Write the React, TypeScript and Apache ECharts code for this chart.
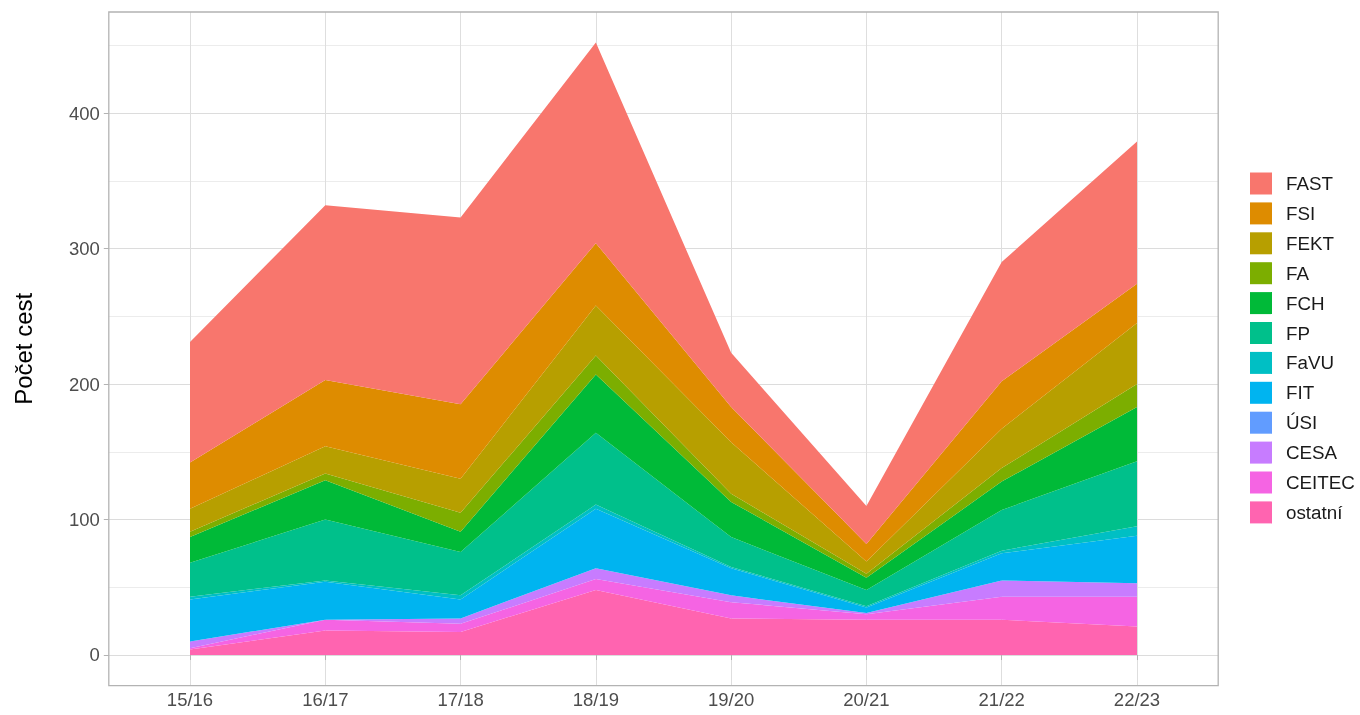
import React, { useEffect, useRef } from 'react';
import * as echarts from 'echarts';

// ---- data ----
const categories = ['15/16', '16/17', '17/18', '18/19', '19/20', '20/21', '21/22', '22/23'];
const FAST = [89, 129, 138, 148, 40, 28, 88, 105];
const FSI = [34, 49, 55, 46, 26, 13, 35, 29];
const FEKT = [17, 20, 25, 37, 38, 9, 29, 45];
const FA = [4, 5, 14, 14, 6, 3, 10, 17];
const FCH = [19, 29, 15, 43, 26, 9, 21, 40];
const FP = [25, 45, 32, 53, 22, 12, 30, 48];
const FaVU = [2, 1, 3, 3, 1, 1, 2, 7];
const FIT = [31, 28, 14, 44, 20, 4, 20, 35];
const USI = [0, 0, 0, 0, 0, 0, 0, 0];
const CESA = [5, 0, 4, 8, 5, 1, 12, 10];
const CEITEC = [1, 8, 6, 8, 12, 4, 17, 22];
const ostatni = [4, 18, 17, 48, 27, 26, 26, 21];
const yTickLabels = [0, 100, 200, 300, 400];
const yTitle = 'Počet cest';

// legend order (top of stack first)
const seriesList: { name: string; data: number[]; color: string }[] = [
  { name: 'FAST', data: FAST, color: '#F8766D' },
  { name: 'FSI', data: FSI, color: '#DE8C00' },
  { name: 'FEKT', data: FEKT, color: '#B79F00' },
  { name: 'FA', data: FA, color: '#7CAE00' },
  { name: 'FCH', data: FCH, color: '#00BA38' },
  { name: 'FP', data: FP, color: '#00C08B' },
  { name: 'FaVU', data: FaVU, color: '#00BFC4' },
  { name: 'FIT', data: FIT, color: '#00B4F0' },
  { name: 'ÚSI', data: USI, color: '#619CFF' },
  { name: 'CESA', data: CESA, color: '#C77CFF' },
  { name: 'CEITEC', data: CEITEC, color: '#F564E3' },
  { name: 'ostatní', data: ostatni, color: '#FF64B0' },
];

// ---- layout ----
const FONT = '"Liberation Sans", Arial, sans-serif';
const TICK_FONT = 18.5;
const panelLeft = 108.8;
const panelRight = 1218.2;
const panelTop = 12;
const panelBottom = 685.6;
const catFirstX = 190;
const catLastX = 1137;

export default function App() {
  const ref = useRef<HTMLDivElement>(null);
  useEffect(() => {
    if (!ref.current) return;
    const chart = echarts.init(ref.current, undefined, { renderer: 'svg' });

    const totals = categories.map((_, i) => seriesList.reduce((s, x) => s + x.data[i], 0));
    const maxTotal = Math.max(...totals);
    const yMin = -0.05 * maxTotal;
    const yMax = maxTotal * 1.05;
    const scale = (panelBottom - panelTop) / (yMax - yMin);
    const px = (v: number) => panelBottom - (v - yMin) * scale;

    const gridMax = 450;
    const labelMax = yTickLabels[yTickLabels.length - 1];

    const option: any = {
      animation: false,
      textStyle: { fontFamily: FONT },
      grid: [
        { left: panelLeft, top: px(gridMax), width: panelRight - panelLeft, height: px(0) - px(gridMax), containLabel: false },
        { left: catFirstX, top: panelTop, width: catLastX - catFirstX, height: panelBottom - panelTop, containLabel: false },
        { left: panelLeft, top: px(labelMax), width: panelRight - panelLeft, height: px(0) - px(labelMax), containLabel: false },
      ],
      xAxis: [
        { gridIndex: 0, type: 'value', show: false, min: 0, max: 1 },
        {
          gridIndex: 1,
          type: 'category',
          data: categories,
          boundaryGap: false,
          axisLine: { show: false },
          axisTick: { show: true, length: 5, lineStyle: { color: '#b3b3b3', width: 1 }, alignWithLabel: true },
          axisLabel: { color: '#4d4d4d', fontSize: TICK_FONT, margin: 4, fontFamily: FONT },
          splitLine: { show: true, lineStyle: { color: '#dedede', width: 1 } },
        },
        { gridIndex: 2, type: 'value', show: false, min: 0, max: 1 },
      ],
      yAxis: [
        {
          gridIndex: 0,
          type: 'value',
          min: 0,
          max: gridMax,
          interval: 50,
          axisLine: { show: false },
          axisTick: { show: false },
          axisLabel: { show: false },
          splitLine: { show: true, lineStyle: { color: ['#dcdcdc', '#ececec'], width: 1 } },
        },
        { gridIndex: 1, type: 'value', min: yMin, max: yMax, show: false },
        {
          gridIndex: 2,
          type: 'value',
          min: 0,
          max: labelMax,
          interval: 100,
          axisLine: { show: false },
          axisTick: { show: true, length: 5, lineStyle: { color: '#b3b3b3', width: 1 } },
          axisLabel: { color: '#4d4d4d', fontSize: TICK_FONT, margin: 9, fontFamily: FONT },
          splitLine: { show: false },
        },
      ],
      legend: {
        orient: 'vertical',
        left: 1250,
        top: 172.5,
        padding: 0,
        itemWidth: 22,
        itemHeight: 22,
        itemGap: 7.9,
        icon: 'rect',
        textStyle: { fontSize: 18.8, color: '#1a1a1a', fontFamily: FONT, padding: [0, 0, 0, 9] },
        data: seriesList.map((s) => ({ name: s.name, itemStyle: { color: s.color } })),
      },
      series: [...seriesList].reverse().map((s) => ({
        name: s.name,
        type: 'line',
        xAxisIndex: 1,
        yAxisIndex: 1,
        stack: 'total',
        data: s.data,
        color: s.color,
        symbol: 'none',
        showSymbol: false,
        lineStyle: { width: 0, color: s.color },
        itemStyle: { color: s.color },
        areaStyle: { color: s.color, opacity: 1 },
        emphasis: { disabled: true },
      })),
      graphic: [
        {
          type: 'rect',
          shape: { x: panelLeft, y: panelTop, width: panelRight - panelLeft, height: panelBottom - panelTop },
          style: { fill: 'none', stroke: '#b3b3b3', lineWidth: 1.3 },
          z: 10,
        },
        {
          type: 'text',
          x: 23,
          y: (panelTop + panelBottom) / 2,
          rotation: Math.PI / 2,
          style: {
            text: yTitle,
            fill: '#000000',
            font: `24px ${FONT}`,
            align: 'center',
            verticalAlign: 'middle',
          },
        },
      ],
    };
    chart.setOption(option);
    return () => chart.dispose();
  }, []);
  return <div ref={ref} style={{ position: 'fixed', left: 0, top: 0, width: 1360, height: 715 }} />;
}
